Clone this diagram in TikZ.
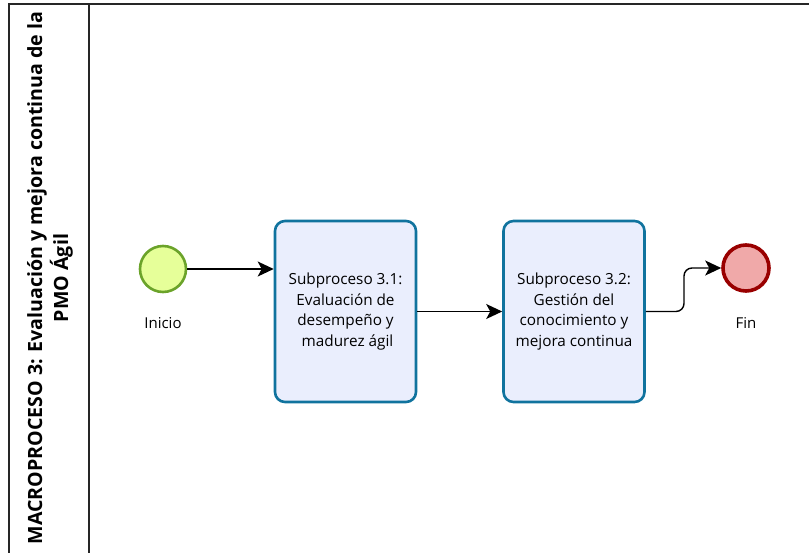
\documentclass[tikz,border=0pt]{standalone}
\usepackage{fontspec}
\setmainfont{Open Sans}
\usetikzlibrary{arrows.meta}
\definecolor{startfill}{HTML}{E6FF99}
\definecolor{startline}{HTML}{6BA32A}
\definecolor{endfill}{HTML}{F0A9A9}
\definecolor{endline}{HTML}{990000}
\definecolor{taskfill}{HTML}{EAEEFD}
\definecolor{taskline}{HTML}{10739E}
\tikzset{
  event/.style={circle, minimum size=46pt, inner sep=0pt},
  startev/.style={event, draw=startline, fill=startfill, line width=2.6pt},
  endev/.style={event, draw=endline, fill=endfill, line width=3.6pt},
  task/.style={draw=taskline, fill=taskfill, line width=2.6pt, rounded corners=10pt,
    minimum width=141pt, minimum height=181pt, align=center,
    font=\fontsize{15.3}{20.7}\selectfont},
  lbl/.style={font=\fontsize{15}{17}\selectfont},
  flow/.style={line width=1.4pt, -{Stealth[length=16pt, width=15pt, inset=4pt]}},
  pool/.style={line width=1.4pt, draw=black!85}
}
\begin{document}
\begin{tikzpicture}[x=1pt, y=-1pt]
  \useasboundingbox (0,0) rectangle (809,552);
  % pool and lane header
  \draw[pool] (9,560) -- (9,4) -- (820,4);
  \draw[pool] (89,4) -- (89,560);
  \node[rotate=90, align=center, font=\bfseries\fontsize{19.6}{26}\selectfont] (title) at (50,278)
    {MACROPROCESO 3: Evaluación y mejora continua de la\\PMO Ágil};
  % events and tasks
  \node[startev] (ini) at (163,269) {};
  \node[lbl] (inilbl) at (163,323) {Inicio};
  \node[task] (t1) at (345.5,311.5) {Subproceso 3.1:\\Evaluación de\\desempeño y\\\ madurez ágil};
  \node[task] (t2) at (574,311.5) {Subproceso 3.2:\\Gestión del\\conocimiento y\\mejora continua};
  \node[endev] (fin) at (746,268) {};
  \node[lbl] (finlbl) at (746,323) {Fin};
  % sequence flows
  \draw[flow] (ini.east) -- (ini.east -| t1.west);
  \draw[flow] (t1.east) -- (t2.west);
  \coordinate (bend) at (684,311.5);
  \draw[flow, rounded corners=8pt] (t2.east) -- (bend) -- (bend |- fin.west) -- (fin.west);
\end{tikzpicture}
\end{document}
